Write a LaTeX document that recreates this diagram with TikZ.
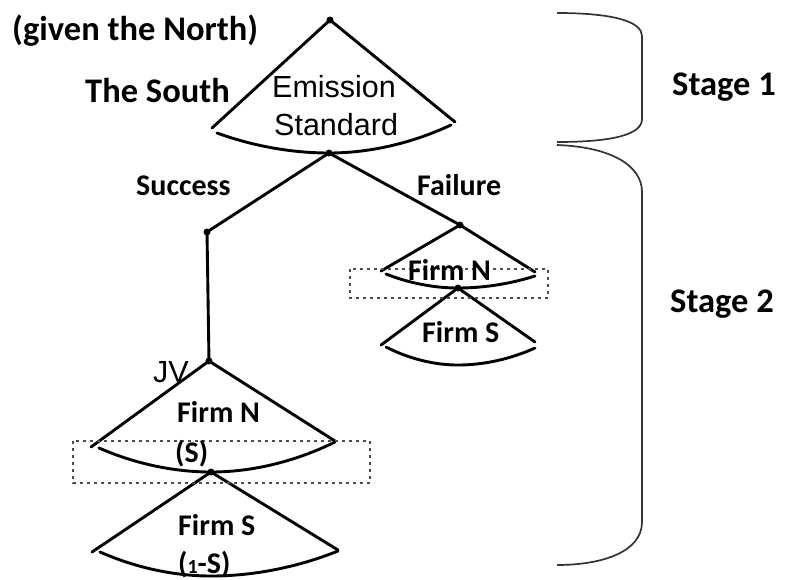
\documentclass[tikz,border=0pt]{standalone}
\usepackage{fontspec}
\setmainfont{Carlito}
\newfontfamily\libsans{Liberation Sans}
\begin{document}
\begin{tikzpicture}[x=1pt,y=-1pt,
  fan/.style={line width=2.9pt, line cap=round, line join=round},
  dotn/.style={circle, fill, inner sep=0pt, minimum size=7pt},
  lbl/.style={font=\fontsize{30}{30}\selectfont\bfseries, inner sep=0pt, anchor=base west},
  biglbl/.style={font=\fontsize{34.5}{34.5}\selectfont\bfseries, inner sep=0pt, anchor=base west},
  reg/.style={font=\libsans\fontsize{30.5}{30.5}\selectfont, inner sep=0pt, anchor=base west},
  bracel/.style={line width=1.7pt, color=black!80},
  selbox/.style={line width=2.8pt, color=black!70, dash pattern=on 2.8pt off 4.2pt}]
\useasboundingbox (0,0) rectangle (786,579);

% decision points
\node[dotn] (r)  at (330,20) {};
\node[dotn] (c)  at (329,153) {};
\node[dotn] (s)  at (207,232) {};
\node[dotn] (f)  at (460,225) {};
\node[dotn] (j)  at (209,361) {};
\node[dotn] (fs) at (458,288) {};
\node[dotn] (js) at (211,472) {};

% fan tips
\coordinate (rL) at (212,128);  \coordinate (rR) at (455,122);
\coordinate (fL) at (381,271);  \coordinate (fR) at (535,272);
\coordinate (fsL) at (381,345); \coordinate (fsR) at (535,342);
\coordinate (jL) at (91,447);   \coordinate (jR) at (335,441);
\coordinate (jsL) at (92,552);  \coordinate (jsR) at (338,550);

% stage 1 fan
\draw[fan] (rL) -- (r.center) -- (rR);
\draw[fan] (217,133) parabola bend (c.center) (451,125);

% branches
\draw[fan] (c.center) -- (s.center) -- (j.center);
\draw[fan] (c.center) -- (f.center) -- (fR);

% failure fans
\draw[fan] (f.center) -- (fL);
\draw[fan] (386,274) parabola bend (fs.center) (535,276);
\draw[fan] (fsL) -- (fs.center) -- (fsR);
\draw[fan] (386,347) parabola bend (458,365) (535,348);

% JV fans
\draw[fan] (jL) -- (j.center) -- (jR);
\draw[fan] (99,448) parabola bend (js.center) (335,442);
\draw[fan] (jsL) -- (js.center) -- (jsR);
\draw[fan] (100,552) parabola bend (211,576) (338,551);

% information sets
\draw[selbox] (350,269) rectangle (548,298);
\draw[selbox] (73,441) rectangle (370,483);

% braces
\draw[bracel] (557,13) .. controls (615,13) and (642,22) .. (642,36) -- (642,119)
  .. controls (642,134) and (615,142) .. (557,142);
\draw[bracel] (557,145) .. controls (612,147) and (642,166) .. (642,192) -- (642,522)
  .. controls (642,552) and (602,565) .. (557,565);

% labels
\node[biglbl] (gn) at (12,40) {(given the North)};
\node[biglbl] (ts) at (85,102) {The South};
\node[reg] (em) at (272,97) {Emission};
\node[reg] (st) at (274,135) {Standard};
\node[lbl] (su) at (136,195) {Success};
\node[lbl] (fa) at (417,195) {Failure};
\node[lbl] (fn1) at (408,280) {Firm N};
\node[lbl] (fs1) at (422,342) {Firm S};
\node[reg] (jv) at (153,382) {JV};
\node[lbl] (fn2) at (177,422) {Firm N};
\node[lbl] (ss) at (175,462) {(S)};
\node[lbl] (fs2) at (178,535) {Firm S};
\node[lbl] (oms) at (178,573) {({\fontsize{20}{20}\selectfont 1}-S)};
\node[biglbl] (st1) at (672,95) {Stage 1};
\node[biglbl] (st2) at (670,312) {Stage 2};
\end{tikzpicture}
\end{document}
